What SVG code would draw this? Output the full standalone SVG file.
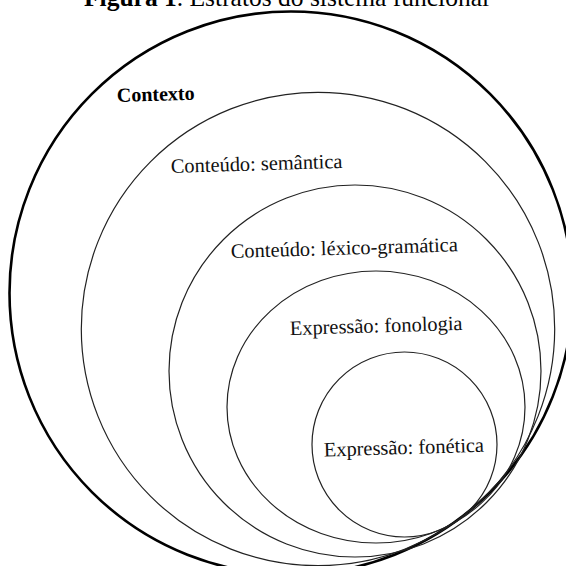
<svg xmlns="http://www.w3.org/2000/svg" width="566" height="566" viewBox="0 0 566 566">
<style>
.bg{fill:#ffffff}
.ring{fill:none;stroke:#222;stroke-width:1.2}
.outer{fill:none;stroke:#000;stroke-width:2.6}
.lbl{font-family:"Liberation Serif","Times New Roman",serif;font-size:20.4px;fill:#111}
.ctx{font-family:"Liberation Serif","Times New Roman",serif;font-size:20px;font-weight:bold;fill:#000}
.title{font-family:"Liberation Serif","Times New Roman",serif;font-size:25.5px;fill:#000}
</style>
<rect class="bg" x="0" y="0" width="566" height="566"/>
<text class="title" x="84" y="6"><tspan font-weight="bold">Figura 1</tspan>. Estratos do sistema funcional</text>
<g id="contexto">
<circle class="outer" cx="291" cy="293" r="281.5"/>
<text class="ctx" x="117" y="102" transform="rotate(-1.7 117 102)">Contexto</text>
</g>
<g id="semantica">
<circle class="ring" cx="318" cy="329" r="236.7"/>
<text class="lbl" x="171" y="173" transform="rotate(-1.7 171 173)">Conteúdo: semântica</text>
</g>
<g id="lexicogramatica">
<circle class="ring" cx="355" cy="371" r="186"/>
<text class="lbl" x="231" y="258" transform="rotate(-1.7 231 258)">Conteúdo: léxico-gramática</text>
</g>
<g id="fonologia">
<ellipse class="ring" cx="376" cy="407" rx="149" ry="136"/>
<text class="lbl" x="290" y="335" transform="rotate(-1.7 290 335)">Expressão: fonologia</text>
</g>
<g id="fonetica">
<circle class="ring" cx="404.5" cy="444.5" r="92.5"/>
<text class="lbl" x="324" y="456.5" transform="rotate(-1.7 324 456.5)">Expressão: fonética</text>
</g>
</svg>
